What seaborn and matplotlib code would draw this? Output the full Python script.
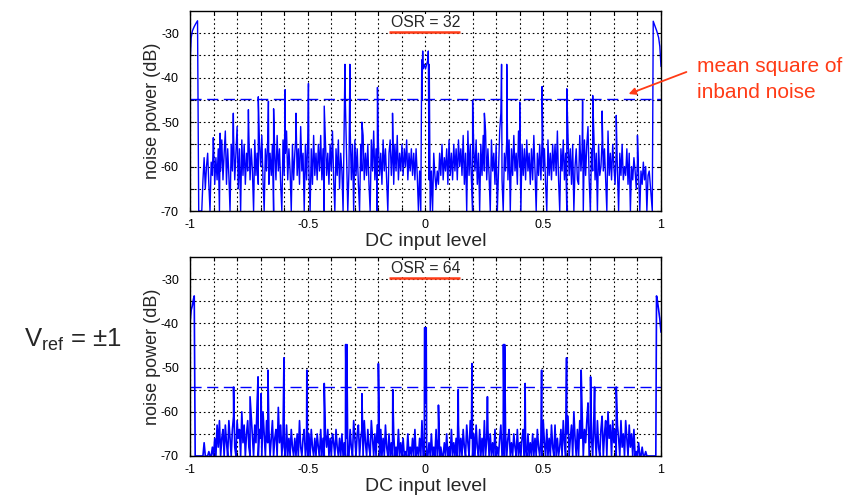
import numpy as np
import pandas as pd
import matplotlib
matplotlib.use("Agg")
import matplotlib.pyplot as plt
import seaborn as sns

## noise power of a first-order modulator vs DC input
## x grid for the noise floor readings: -0.95 ... 0.95 in 0.005 steps
noise_x = np.round(np.arange(-0.95, 0.95001, 0.005), 3)

# OSR = 32 : noise floor readings (dB), one row per 0.1 of input
osr32_noise = [
    -70, -63, -58, -65, -60, -57, -64, -70, -59, -62, -55, -64, -58, -63, -56, -70, -61, -54, -63, -57,
    -52, -64, -56, -62, -70, -55, -61, -53, -63, -57, -51, -65, -56, -70, -54, -62, -55, -64, -57, -61,
    -53, -63, -56, -61, -70, -54, -62, -57, -64, -55, -60, -53, -63, -70, -56, -61, -54, -64, -57, -62,
    -55, -70, -57, -63, -53, -61, -56, -64, -70, -54, -62, -57, -52, -63, -56, -61, -70, -55, -63, -57,
    -53, -62, -56, -64, -51, -61, -57, -70, -55, -63, -54, -61, -70, -56, -64, -53, -62, -57, -63, -55,
    -61, -53, -63, -56, -70, -54, -62, -57, -64, -55, -61, -52, -63, -70, -56, -62, -54, -65, -57, -61,
    -70, -50, -46, -58, -70, -61, -51, -63, -55, -70, -54, -62, -56, -64, -70, -55, -61, -53, -63, -57,
    -62, -55, -64, -70, -54, -61, -52, -63, -56, -70, -55, -62, -57, -64, -54, -61, -56, -63, -70, -57,
    -54, -62, -56, -64, -55, -61, -53, -63, -57, -61, -55, -62, -56, -60, -54, -63, -57, -61, -56, -62,
    -57, -63, -56, -62, -70, -61, -70, -45, -38, -37, -38, -37, -36, -63, -70, -61, -70, -57, -62, -65,
    -61, -64, -57, -62, -55, -63, -58, -61, -56, -64, -54, -62, -57, -63, -55, -61, -56, -63, -54, -60,
    -56, -62, -53, -64, -57, -70, -52, -62, -55, -63, -70, -56, -61, -54, -64, -57, -70, -55, -62, -53,
    -61, -52, -63, -56, -62, -70, -54, -61, -57, -64, -55, -70, -61, -52, -48, -63, -70, -57, -61, -54,
    -63, -54, -70, -56, -62, -53, -61, -57, -64, -52, -60, -70, -55, -62, -56, -63, -54, -61, -57, -64,
    -56, -63, -53, -61, -70, -57, -62, -55, -63, -54, -61, -56, -64, -70, -54, -62, -57, -63, -55, -61,
    -55, -62, -52, -63, -70, -56, -61, -54, -63, -57, -70, -53, -62, -56, -64, -55, -70, -60, -56, -63,
    -64, -53, -61, -56, -70, -54, -62, -55, -51, -63, -70, -56, -61, -53, -63, -57, -70, -55, -62, -60,
    -54, -61, -56, -63, -70, -52, -62, -57, -63, -55, -60, -64, -56, -61, -70, -57, -62, -55, -63, -60,
    -62, -56, -64, -57, -70, -60, -63, -58, -61, -65, -59, -62, -70, -61, -64, -59, -63, -60, -70, -62,
    -61,
]
osr32_peak_x = [-0.901, -0.872, -0.816, -0.752, -0.71, -0.667, -0.645, -0.596, -0.55,
                -0.497, -0.43, -0.342, -0.321, -0.27, -0.204, -0.14,
                -0.016, -0.012, 0.012, 0.016,
                0.2, 0.25, 0.323, 0.345, 0.4, 0.495, 0.6, 0.667, 0.71, 0.75, 0.81, 0.9]
osr32_peak_y = [-53.5, -52.5, -48, -47.2, -44.3, -45.3, -47, -42.7, -48,
                -41.3, -46.4, -37, -37, -50, -42.2, -48,
                -36, -34, -34, -37,
                -45, -48, -37, -37, -45.5, -42, -42.5, -45.3, -44, -47.5, -48.5, -53]
osr32_edge_x = [-1.0, -0.995, -0.99, -0.982, -0.975, -0.968, -0.963,
                0.963, 0.967, 0.975, 0.982, 0.99, 0.995, 1.0]
osr32_edge_y = [-37.5, -31, -29.5, -28.5, -27.8, -27.2, -70,
                -70, -27.3, -28.5, -29.5, -31, -33, -37.5]
osr32_mean = -44.8

# OSR = 64 : noise floor readings (dB), one row per 0.1 of input
osr64_noise = [
    -70, -70, -67, -70, -70, -70, -69, -70, -70, -68, -70, -66, -70, -63, -68, -62, -70, -66, -64, -70,
    -63, -67, -70, -62, -66, -70, -64, -61, -68, -70, -62, -66, -64, -70, -60, -67, -63, -70, -65, -62,
    -68, -70, -61, -65, -70, -63, -67, -58, -70, -64, -66, -70, -60, -65, -70, -62, -67, -64, -70, -66,
    -62, -70, -66, -64, -70, -59, -67, -63, -70, -65, -68, -70, -63, -70, -66, -70, -64, -68, -70, -66,
    -70, -65, -70, -62, -68, -70, -66, -64, -70, -67, -70, -65, -70, -64, -68, -70, -66, -70, -65, -68,
    -70, -64, -70, -66, -70, -65, -68, -64, -70, -66, -70, -65, -67, -70, -64, -68, -70, -66, -70, -65,
    -70, -67, -70, -66, -70, -70, -64, -68, -70, -62, -66, -70, -65, -63, -70, -66, -64, -70, -62, -67,
    -70, -64, -68, -70, -62, -66, -70, -65, -70, -63, -67, -70, -64, -70, -66, -70, -63, -68, -70, -65,
    -70, -67, -70, -65, -70, -68, -70, -64, -70, -67, -70, -66, -70, -69, -70, -65, -70, -68, -70, -66,
    -70, -64, -70, -68, -70, -66, -70, -62, -70, -70, -58, -70, -70, -67, -70, -65, -70, -68, -70, -64,
    -70, -66, -70, -68, -70, -70, -67, -70, -65, -70, -68, -70, -64, -70, -67, -70, -66, -70, -63, -70,
    -66, -70, -64, -68, -70, -63, -67, -70, -62, -66, -70, -65, -70, -63, -68, -70, -64, -70, -66, -70,
    -62, -70, -66, -64, -70, -65, -70, -67, -70, -64, -70, -68, -70, -66, -63, -70, -67, -70, -65, -70,
    -66, -64, -70, -67, -70, -65, -68, -70, -64, -70, -67, -70, -66, -64, -70, -68, -70, -65, -70, -67,
    -70, -65, -70, -66, -70, -64, -68, -70, -66, -70, -62, -67, -70, -64, -70, -66, -70, -63, -68, -70,
    -63, -70, -66, -70, -68, -64, -70, -62, -67, -70, -65, -61, -70, -66, -63, -70, -60, -66, -70, -64,
    -70, -62, -66, -60, -70, -64, -67, -62, -58, -70, -63, -66, -70, -61, -65, -70, -62, -68, -70, -64,
    -61, -70, -65, -62, -70, -60, -66, -63, -70, -62, -67, -64, -70, -63, -66, -70, -62, -68, -65, -70,
    -62, -66, -70, -63, -68, -65, -70, -64, -70, -69, -70, -67, -70, -70, -68, -70, -70, -69, -70, -70,
    -70,
]
osr64_peak_x = [-0.815, -0.745, -0.711, -0.698, -0.669, -0.601, -0.504, -0.43,
                -0.339, -0.334, -0.27, -0.2, -0.139, -0.004, -0.001, 0.003,
                0.055, 0.139, 0.197, 0.263, 0.331, 0.336, 0.423, 0.493,
                0.599, 0.661, 0.701, 0.718, 0.81]
osr64_peak_y = [-54.4, -56.6, -52.1, -55.9, -50.6, -47.8, -50.6, -53.6,
                -44.8, -44.8, -55.9, -49.1, -55, -41, -41, -41,
                -58.5, -55, -49.1, -56.6, -44.8, -44.8, -53.6, -50.6,
                -47.8, -50.6, -52.1, -54.4, -54.4]
osr64_edge_x = [-1.0, -0.995, -0.99, -0.985, -0.982, -0.978,
                0.978, 0.981, 0.985, 0.99, 0.995, 1.0]
osr64_edge_y = [-40, -37, -36, -34.5, -33.8, -70,
                -70, -33.8, -35, -37, -39, -42]
osr64_mean = -54.4

panels = [
    ("OSR = 32", osr32_noise, osr32_peak_x, osr32_peak_y, osr32_edge_x, osr32_edge_y, osr32_mean, 1.0),
    ("OSR = 64", osr64_noise, osr64_peak_x, osr64_peak_y, osr64_edge_x, osr64_edge_y, osr64_mean, 1.2),
]

x_ticks = np.round(np.arange(-1, 1.0001, 0.1), 1)
x_labels = {-1.0: "-1", -0.5: "-0.5", 0.0: "0", 0.5: "0.5", 1.0: "1"}
y_ticks = np.arange(-70, -29, 5)
y_labels = {-70: "-70", -60: "-60", -50: "-50", -40: "-40", -30: "-30"}

## styling
sns.set_style("ticks")
plt.rcParams["font.family"] = ["Liberation Sans", "DejaVu Sans"]
plt.rcParams["mathtext.fontset"] = "custom"
plt.rcParams["mathtext.rm"] = "Liberation Sans"

W, H = 851, 496
fig = plt.figure(figsize=(W / 100, H / 100), dpi=100)


def px_box(left, top, right, bottom):
    return [left / W, 1 - bottom / H, (right - left) / W, (bottom - top) / H]


boxes = [px_box(190, 11, 661, 211), px_box(190, 257, 661, 456)]
red = "#ff3b16"
blue = "#0000ff"

for (title, noise, pk_x, pk_y, ed_x, ed_y, mean_db, lw), box in zip(panels, boxes):
    ax = fig.add_axes(box)
    df = pd.DataFrame({
        "dc": np.concatenate([noise_x, pk_x, ed_x]),
        "power": np.concatenate([noise, pk_y, ed_y]),
    }).sort_values("dc", kind="stable")
    sns.lineplot(data=df, x="dc", y="power", ax=ax, color=blue, linewidth=lw,
                 estimator=None, sort=False)
    ax.axhline(mean_db, color=blue, linewidth=1.0, linestyle=(0, (8, 4)))

    ax.set_xlim(-1, 1)
    ax.set_ylim(-70, -25)
    ax.set_xticks(x_ticks, [x_labels.get(t, "") for t in x_ticks])
    ax.set_yticks(y_ticks, [y_labels.get(int(t), "") for t in y_ticks])
    ax.grid(True, color="black", linestyle=(0, (1.5, 2.5)), linewidth=0.8)
    ax.tick_params(direction="in", length=3, width=0.8, top=True, right=True,
                   labelsize=9, colors="black")
    ax.tick_params(axis="y", pad=8)
    ax.tick_params(axis="x", pad=6)
    for s in ax.spines.values():
        s.set_color("black")
        s.set_linewidth(1.0)
    ax.set_xlabel("DC input level", fontsize=14, labelpad=1)
    ax.set_ylabel("noise power (dB)", fontsize=13, labelpad=0)
    ax.text(0.0, -27.6, title, ha="center", va="center", fontsize=11.3,
            bbox=dict(facecolor="white", edgecolor="none", pad=0.5))
    ax.plot([-0.155, 0.146], [-29.75, -29.75], color=red, linewidth=1.8,
            solid_capstyle="butt", clip_on=False)

## annotations
fig.text(697 / W, 1 - 66 / H, "mean square of", color=red,
         fontsize=15, ha="left", va="center")
fig.text(697 / W, 1 - 92 / H, "inband noise", color=red,
         fontsize=15, ha="left", va="center")
fig.add_artist(matplotlib.patches.FancyArrowPatch(
    (689 / W, 1 - 71 / H), (626 / W, 1 - 95 / H), transform=fig.transFigure,
    arrowstyle="-|>", mutation_scale=10, color=red, linewidth=1.3))
fig.text(24 / W, 1 - 340 / H, r"V$_{\mathrm{ref}}$ = ±1", fontsize=18.5,
         ha="left", va="center")

fig.savefig("out.png", dpi=100)
